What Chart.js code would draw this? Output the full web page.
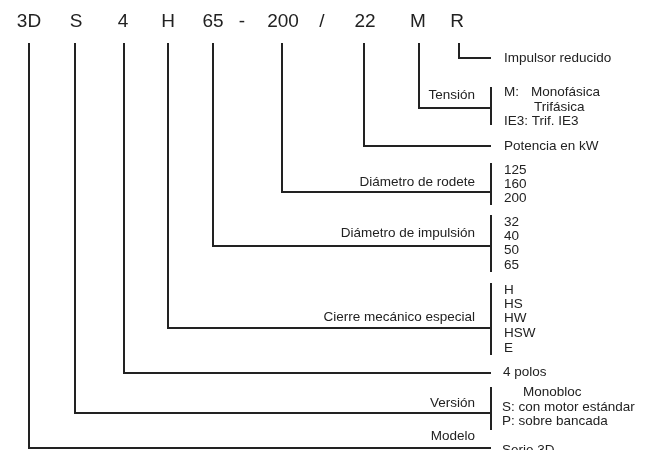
<!DOCTYPE html>
<html>
<head>
<meta charset="utf-8">
<script src="https://cdn.jsdelivr.net/npm/chart.js@4"></script>
<style>
  html, body { margin: 0; padding: 0; background: #fff; }
  #wrap { width: 657px; height: 450px; }
</style>
</head>
<body>
<div id="wrap"><canvas id="codigo"></canvas></div>
<script>
// top row of the type code
const codes = ['3D', 'S', '4', 'H', '65', '-', '200', '/', '22', 'M', 'R'];
const codeX = [29, 76, 123, 168, 213, 242, 283, 322, 365, 418, 457];

// one stem per meaningful code segment (3D ... R)
const stemX = [29, 75, 124, 168, 213, 282, 364, 419, 459];
const branchY = [448, 413, 373, 328, 246, 192, 146, 108, 58];
const bracketTop = [null, 387, null, 283, 215, 163, null, 87, null];
const bracketBottom = [null, 430, null, 355, 272, 205, null, 125, null];

// names of each field, written left of the bracket
const fieldNames = ['Modelo', 'Versión', 'Cierre mecánico especial', 'Diámetro de impulsión', 'Diámetro de rodete', 'Tensión'];
const fieldNameY = [436, 403, 317, 233, 182, 95];

// options, written right of the bracket
const optionText = [
  'Impulsor reducido',
  'M:', 'Monofásica', 'Trifásica', 'IE3: Trif. IE3',
  'Potencia en kW',
  '125', '160', '200',
  '32', '40', '50', '65',
  'H', 'HS', 'HW', 'HSW', 'E',
  '4 polos',
  'Monobloc', 'S: con motor estándar', 'P: sobre bancada',
  'Serie 3D'
];
const optionX = [
  504,
  504, 531, 534, 504,
  504,
  504, 504, 504,
  504, 504, 504, 504,
  504, 504, 504, 504, 504,
  503,
  523, 502, 502,
  502
];
const optionY = [
  58,
  92, 92, 107, 121,
  146,
  170, 184, 198,
  222, 236, 250, 265,
  290, 304, 318, 333, 348,
  372,
  392, 407, 421,
  450
];

const STEM_TOP = 43;
const BRACKET_X = 491;
const INK = '#222';

const datasets = [];
stemX.forEach(function (x, i) {
  datasets.push({
    data: [{ x: x, y: STEM_TOP }, { x: x, y: branchY[i] }, { x: BRACKET_X, y: branchY[i] }],
    showLine: true, borderColor: INK, borderWidth: 2, pointRadius: 0,
    borderJoinStyle: 'miter', clip: false
  });
  if (bracketTop[i] !== null) {
    datasets.push({
      data: [{ x: BRACKET_X, y: bracketTop[i] }, { x: BRACKET_X, y: bracketBottom[i] }],
      showLine: true, borderColor: INK, borderWidth: 2, pointRadius: 0, clip: false
    });
  }
});

const textPlugin = {
  id: 'textos',
  afterDraw(chart) {
    const c = chart.ctx;
    const sx = chart.scales.x, sy = chart.scales.y;
    c.save();
    c.fillStyle = INK;
    c.textBaseline = 'middle';

    c.font = '19px "Liberation Sans", Arial, sans-serif';
    c.textAlign = 'center';
    codes.forEach(function (t, i) {
      c.fillText(t, sx.getPixelForValue(codeX[i]), sy.getPixelForValue(22));
    });

    c.font = '13.5px "Liberation Sans", Arial, sans-serif';
    c.textAlign = 'right';
    fieldNames.forEach(function (t, i) {
      c.fillText(t, sx.getPixelForValue(475), sy.getPixelForValue(fieldNameY[i]));
    });

    c.textAlign = 'left';
    optionText.forEach(function (t, i) {
      c.fillText(t, sx.getPixelForValue(optionX[i]), sy.getPixelForValue(optionY[i]));
    });
    c.restore();
  }
};

new Chart(document.getElementById('codigo'), {
  type: 'scatter',
  data: { datasets: datasets },
  options: {
    responsive: true,
    maintainAspectRatio: false,
    animation: false,
    layout: { padding: 0 },
    scales: {
      x: { type: 'linear', min: 0, max: 657, display: false },
      y: { type: 'linear', min: 0, max: 450, reverse: true, display: false }
    },
    plugins: { legend: { display: false }, tooltip: { enabled: false } }
  },
  plugins: [textPlugin]
});
</script>
</body>
</html>
